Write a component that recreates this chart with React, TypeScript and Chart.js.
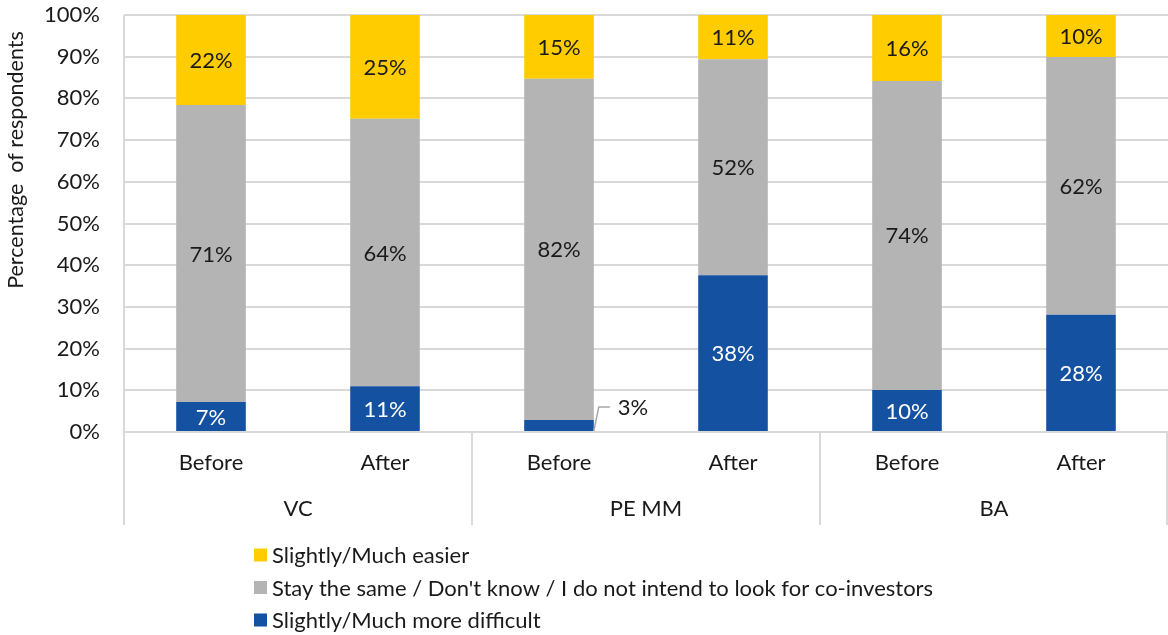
import React, { useEffect, useRef } from 'react';
import { Chart, registerables } from 'chart.js';

Chart.register(...registerables);

const groups = ['VC', 'PE MM', 'BA'];
const periods = ['Before', 'After', 'Before', 'After', 'Before', 'After'];
const harder = [7.2, 11.0, 2.9, 37.6, 10.1, 28.1];
const same = [71.2, 64.1, 81.8, 51.8, 74.1, 61.8];
const easier = [21.6, 24.9, 15.3, 10.6, 15.8, 10.1];
const seriesNames = [
  'Slightly/Much easier',
  "Stay the same / Don't know / I do not intend to look for co-investors",
  'Slightly/Much more difficult',
];
const yTitle = 'Percentage  of respondents';

const YELLOW = '#FFCC00';
const GRAY = '#B4B4B4';
const BLUE = '#1451A0';
const TEXT = '#1a1a1a';
const LINE = '#D9D9D9';
const FONT = 'Lato, "Open Sans", sans-serif';
const FS = 22;

const customPlugin = {
  id: 'custom',
  afterDatasetsDraw(chart: any) {
    const ctx = chart.ctx;
    ctx.save();
    ctx.font = `${FS}px ${FONT}`;
    ctx.textAlign = 'center';
    ctx.textBaseline = 'middle';
    chart.data.datasets.forEach((ds: any, di: number) => {
      const meta = chart.getDatasetMeta(di);
      meta.data.forEach((bar: any, i: number) => {
        const v = ds.data[i];
        const txt = Math.round(v) + '%';
        const top = bar.y;
        const base = bar.base;
        if (Math.abs(base - top) < 20) {
          const right = bar.x + bar.width / 2;
          const ly = top - 13;
          ctx.strokeStyle = '#A6A6A6';
          ctx.lineWidth = 1.5;
          ctx.beginPath();
          ctx.moveTo(right, base);
          ctx.lineTo(right + 5, ly);
          ctx.lineTo(right + 16, ly);
          ctx.stroke();
          ctx.fillStyle = TEXT;
          ctx.textAlign = 'left';
          ctx.fillText(txt, right + 24, ly + 1);
          ctx.textAlign = 'center';
        } else {
          ctx.fillStyle = ds.labelColor;
          ctx.fillText(txt, bar.x, (top + base) / 2 + 1);
        }
      });
    });
    ctx.restore();
  },
  afterDraw(chart: any) {
    const ctx = chart.ctx;
    const area = chart.chartArea;
    const n = periods.length;
    const catW = (area.right - area.left) / n;
    const axisBottom = 525;
    ctx.save();
    ctx.strokeStyle = LINE;
    ctx.lineWidth = 2;
    ctx.beginPath();
    ctx.moveTo(area.left, area.top);
    ctx.lineTo(area.left, axisBottom);
    ctx.stroke();
    for (let g = 1; g <= groups.length; g++) {
      let x = area.left + g * 2 * catW;
      if (g === groups.length) x = Math.min(x, chart.width - 1);
      ctx.beginPath();
      ctx.moveTo(x, area.bottom);
      ctx.lineTo(x, axisBottom);
      ctx.stroke();
    }
    ctx.fillStyle = TEXT;
    ctx.font = `${FS}px ${FONT}`;
    ctx.textAlign = 'center';
    ctx.textBaseline = 'middle';
    groups.forEach((g, gi) => {
      const cx = area.left + (gi * 2 + 1) * catW;
      ctx.fillText(g, cx, 509);
    });
    ctx.save();
    ctx.translate(16, 160);
    ctx.rotate(-Math.PI / 2);
    ctx.font = `21.5px ${FONT}`;
    ctx.fillText(yTitle, 0, 0);
    ctx.restore();
    const colors = [YELLOW, GRAY, BLUE];
    const ys = [555, 587.5, 620];
    ctx.textAlign = 'left';
    ctx.font = `${FS}px ${FONT}`;
    seriesNames.forEach((name, i) => {
      ctx.fillStyle = colors[i];
      ctx.fillRect(254, ys[i] - 6.5, 13, 13);
      ctx.fillStyle = TEXT;
      ctx.fillText(name, 272, ys[i] + 1);
    });
    ctx.restore();
  },
};

export default function App() {
  const ref = useRef<HTMLCanvasElement>(null);
  useEffect(() => {
    const canvas = ref.current;
    if (!canvas) return;
    const chart = new Chart(canvas, {
      type: 'bar',
      data: {
        labels: periods,
        datasets: [
          { label: seriesNames[2], data: harder, backgroundColor: BLUE, labelColor: '#ffffff' } as any,
          { label: seriesNames[1], data: same, backgroundColor: GRAY, labelColor: TEXT } as any,
          { label: seriesNames[0], data: easier, backgroundColor: YELLOW, labelColor: TEXT } as any,
        ],
      },
      options: {
        responsive: false,
        animation: false,
        layout: { padding: { top: 15, bottom: 110, left: 0, right: 0 } },
        datasets: { bar: { categoryPercentage: 1, barPercentage: 0.4 } },
        plugins: {
          legend: { display: false },
          tooltip: { enabled: false },
        },
        scales: {
          x: {
            stacked: true,
            grid: { display: false, drawTicks: false },
            border: { display: false },
            ticks: { font: { size: FS, family: FONT }, color: TEXT, padding: 18, maxRotation: 0 },
            afterFit(scale: any) {
              scale.height = 93;
              scale.paddingLeft = 0;
              scale.paddingRight = 0;
            },
          },
          y: {
            stacked: true,
            min: 0,
            max: 100,
            grid: { color: LINE, lineWidth: 2, drawTicks: false },
            border: { display: false },
            ticks: {
              stepSize: 10,
              font: { size: FS, family: FONT },
              color: TEXT,
              padding: 24,
              callback: (v: any) => v + '%',
            },
            afterFit(scale: any) {
              scale.width = 124;
              scale.paddingTop = 0;
              scale.paddingBottom = 0;
            },
          },
        },
      },
      plugins: [customPlugin],
    });
    return () => chart.destroy();
  }, []);
  return (
    <div style={{ position: 'fixed', left: 0, top: 0, width: 1168, height: 635, background: '#fff' }}>
      <canvas ref={ref} width={1168} height={635} style={{ display: 'block' }} />
    </div>
  );
}
